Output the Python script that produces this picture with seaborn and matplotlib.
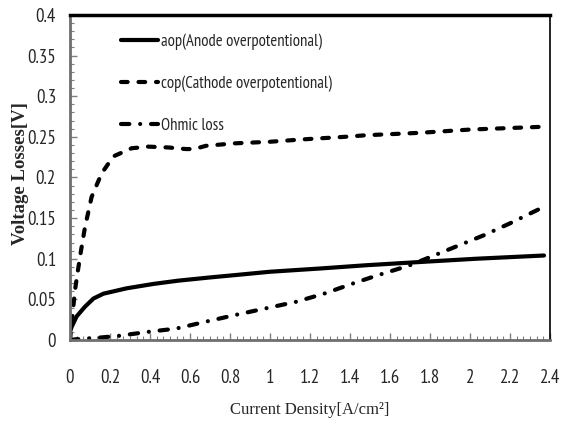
import matplotlib
matplotlib.use("Agg")
import matplotlib.pyplot as plt
from matplotlib.ticker import AutoMinorLocator
import pandas as pd
import seaborn as sns

# Current density [A/cm2] and the three loss components [V]
aop_x = [0.0, 0.008, 0.033, 0.075, 0.117, 0.167, 0.283, 0.417, 0.54, 0.70, 0.83, 1.0, 1.25,
         1.48, 1.75, 2.03, 2.37]
aop_y = [0.010, 0.016, 0.029, 0.041, 0.051, 0.057, 0.0636, 0.069, 0.073, 0.077, 0.080, 0.084,
         0.088, 0.092, 0.096, 0.100, 0.104]

cop_x = [0.0, 0.025, 0.05, 0.075, 0.108, 0.158, 0.217, 0.308, 0.39, 0.49, 0.58, 0.62, 0.68,
         0.82, 1.0, 1.17, 1.37, 1.48, 1.75, 2.0, 2.37]
cop_y = [0.0, 0.0615, 0.1025, 0.139, 0.176, 0.205, 0.226, 0.236, 0.238, 0.237, 0.235, 0.235,
         0.239, 0.242, 0.244, 0.247, 0.250, 0.252, 0.255, 0.259, 0.2625]

ohm_x = [0.0, 0.033, 0.15, 0.24, 0.39, 0.53, 0.68, 0.83, 0.98, 1.13, 1.27, 1.42, 1.53, 1.70,
         1.85, 2.07, 2.2, 2.37]
ohm_y = [0.0, 0.001, 0.003, 0.005, 0.010, 0.014, 0.0226, 0.031, 0.039, 0.047, 0.057, 0.070,
         0.079, 0.092, 0.107, 0.129, 0.1436, 0.164]

labels = ["aop(Anode overpotentional)", "cop(Cathode overpotentional)", "Ohmic loss"]
x_ticks = [0, 0.2, 0.4, 0.6, 0.8, 1, 1.2, 1.4, 1.6, 1.8, 2, 2.2, 2.4]
y_ticks = [0, 0.05, 0.1, 0.15, 0.2, 0.25, 0.3, 0.35, 0.4]

sns.set_theme(style="white")
plt.rcParams["font.family"] = ["PT Sans Narrow", "DejaVu Sans"]

fig = plt.figure(figsize=(5.66, 4.38), dpi=100)
ax = fig.add_axes([70 / 566, 1 - 340 / 438, 480 / 566, 325 / 438])

series = [(aop_x, aop_y, (0, ())),
          (cop_x, cop_y, (0, (1.6, 2.6))),
          (ohm_x, ohm_y, (0, (2.0, 2.6, 0.01, 2.6)))]
for (xs, ys, dash), lab in zip(series, labels):
    df = pd.DataFrame({"j": xs, "v": ys})
    sns.lineplot(data=df, x="j", y="v", ax=ax, color="black", linewidth=3.0,
                 label=lab, linestyle=dash, solid_capstyle="round",
                 dash_capstyle="round")

ax.set_xlim(0, 2.4)
ax.set_ylim(0, 0.4)
ax.set_xticks(x_ticks)
ax.set_xticklabels([f"{t:g}" for t in x_ticks])
ax.set_yticks(y_ticks)
ax.set_yticklabels([f"{t:g}" for t in y_ticks])
ax.xaxis.set_minor_locator(AutoMinorLocator(6))
ax.yaxis.set_minor_locator(AutoMinorLocator(5))
ax.tick_params(axis="x", which="major", direction="in", length=5, width=1, color="#7f7f7f",
               pad=21, labelsize=13.5, bottom=True)
ax.tick_params(axis="y", which="major", direction="in", length=5, width=1, color="#7f7f7f",
               pad=10, labelsize=13.5, left=True)
ax.tick_params(which="minor", direction="in", length=3, width=0.8, color="#7f7f7f",
               bottom=True, left=True)

for side in ("left", "bottom"):
    ax.spines[side].set_color("#6f6f6f")
    ax.spines[side].set_linewidth(2.0)
ax.spines["top"].set_color("black")
ax.spines["top"].set_linewidth(2.5)
ax.spines["right"].set_color("black")
ax.spines["right"].set_linewidth(1.2)

ax.set_xlabel("Current Density[A/cm²]", family="Liberation Serif", fontsize=12)
ax.xaxis.label.set_va("center")
ax.xaxis.set_label_coords(0.5, (340 - 410) / 325)
ax.set_ylabel("Voltage Losses[V]", family="Liberation Serif", fontsize=13.5,
              fontweight="bold")
ax.yaxis.label.set_va("center")
ax.yaxis.set_label_coords((21 - 70) / 480, (340 - 174) / 325)

ax.legend(loc="upper left", bbox_to_anchor=(121 / 566, 1 - 33 / 438),
          bbox_transform=fig.transFigure, frameon=False, fontsize=12,
          handlelength=2.2, handletextpad=0.2, labelspacing=1.55,
          borderpad=0, borderaxespad=0)

fig.savefig("out.png", dpi=100)
